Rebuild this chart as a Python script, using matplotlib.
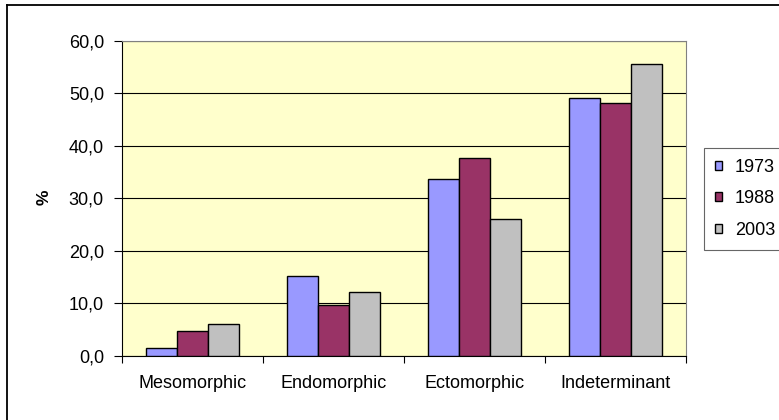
import numpy as np
import matplotlib.pyplot as plt
from matplotlib.lines import Line2D

plt.rcParams["font.family"] = ["Liberation Sans", "DejaVu Sans"]
plt.rcParams["font.size"] = 13

categories = ["Mesomorphic", "Endomorphic", "Ectomorphic", "Indeterminant"]
years = ["1973", "1988", "2003"]
v1973 = [1.5, 15.2, 33.7, 49.1]
v1988 = [4.8, 9.7, 37.7, 48.2]
v2003 = [6.0, 12.2, 26.1, 55.6]
colors = ["#9999FF", "#993366", "#C0C0C0"]

fig = plt.figure(figsize=(7.79, 4.20), dpi=100)
ax = fig.add_axes([122 / 779, 64 / 420, 564 / 779, 315.3 / 420])
ax.set_facecolor("#FFFFCC")

x = np.arange(len(categories))
w = 0.22
for i, (vals, year) in enumerate(zip([v1973, v1988, v2003], years)):
    ax.bar(x + (i - 1) * w, vals, w, color=colors[i], edgecolor="black",
           linewidth=1.0, label=year, zorder=3)

ax.set_xlim(-0.5, 3.5)
ax.set_ylim(0, 60)
ax.set_yticks(np.arange(0, 61, 10))
ax.set_yticklabels([f"{v:.1f}".replace(".", ",") for v in range(0, 61, 10)])
ax.yaxis.grid(True, color="black", linewidth=0.8, zorder=1)
ax.set_axisbelow(True)

# category boundaries as major ticks, names as minor ticks
ax.set_xticks(np.arange(-0.5, 4.0, 1.0))
ax.set_xticklabels([])
ax.set_xticks(x, minor=True)
ax.set_xticklabels(categories, minor=True)
ax.tick_params(axis="x", which="minor", length=0, pad=14)
ax.tick_params(axis="x", which="major", length=5, width=0.8, direction="out")
ax.tick_params(axis="y", length=6, width=0.8, direction="out", pad=7)

for side in ["top", "right"]:
    ax.spines[side].set_color("#808080")
    ax.spines[side].set_linewidth(0.8)
for side in ["left", "bottom"]:
    ax.spines[side].set_color("black")
    ax.spines[side].set_linewidth(0.8)

ax.set_ylabel("%", fontsize=12.5, fontweight="bold")
ax.yaxis.set_label_coords(-0.125, 0.505)

leg = ax.legend(loc="upper left", bbox_to_anchor=(704 / 779, 1 - 148 / 420),
                bbox_transform=fig.transFigure, frameon=True, fancybox=False,
                handlelength=0.4, handleheight=0.4,
                handletextpad=0.7, labelspacing=0.8, borderpad=0.6,
                borderaxespad=0, edgecolor="#404040")
leg.get_frame().set_linewidth(0.8)
for patch in leg.get_patches():
    patch.set_edgecolor("black")

# chart border, only the top and left edges fall inside the image
fig.add_artist(Line2D([6.5 / 779, 6.5 / 779], [0, 1 - 5 / 420],
                      transform=fig.transFigure, color="black", linewidth=1.3))
fig.add_artist(Line2D([6.5 / 779, 1.0], [1 - 5 / 420, 1 - 5 / 420],
                      transform=fig.transFigure, color="black", linewidth=1.3))

fig.savefig("out.png", dpi=100)
